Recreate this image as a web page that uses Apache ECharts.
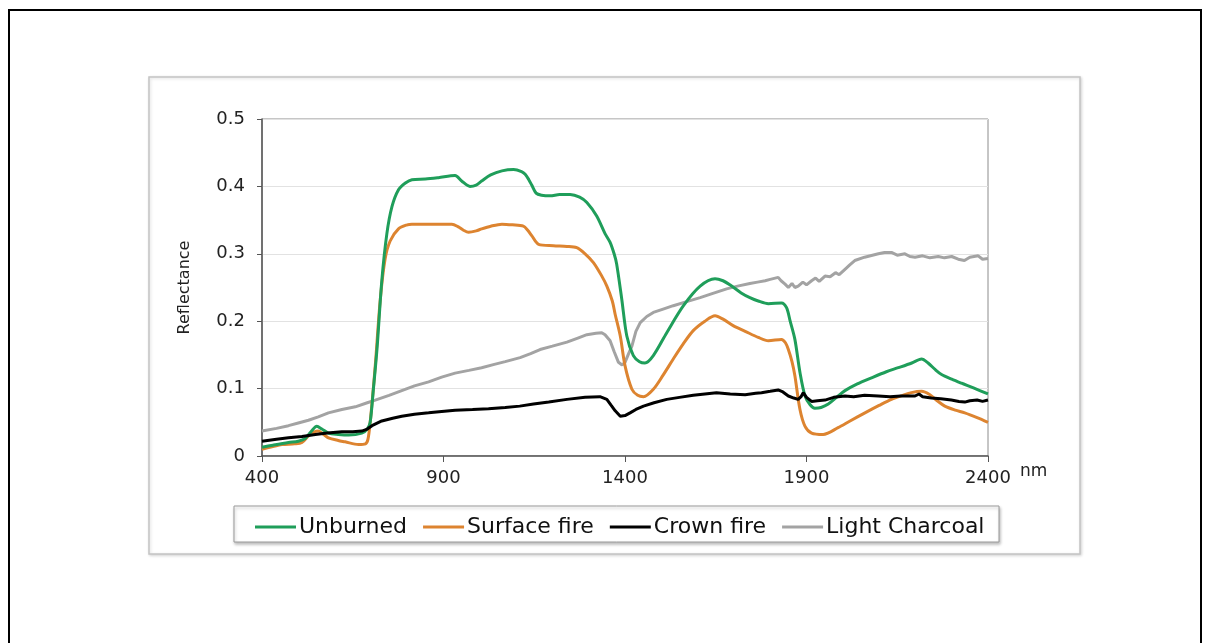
<!DOCTYPE html>
<html>
<head>
<meta charset="utf-8">
<script src="https://cdn.jsdelivr.net/npm/echarts@6/dist/echarts.min.js"></script>
<style>
html,body{margin:0;padding:0;background:#fff;}
#chart{width:1213px;height:643px;}
</style>
</head>
<body>
<div id="chart"></div>
<script>
const seriesNames = ['Unburned', 'Surface fire', 'Crown fire', 'Light Charcoal'];
const xTicks = [400, 900, 1400, 1900, 2400];
const yTicks = [0, 0.1, 0.2, 0.3, 0.4, 0.5];

const unburnedWl = [400,430,473,500,519,535,551,565,583,610,639,675,690,698,707,717,730,744,758,776,795,813,850,886,932,950,973,990,1005,1030,1061,1093,1115,1125,1135,1143,1155,1170,1194,1220,1249,1275,1295,1322,1345,1359,1370,1377,1391,1405,1423,1440,1455,1478,1515,1561,1607,1648,1670,1689,1720,1744,1767,1795,1831,1845,1855,1868,1882,1896,1910,1923,1940,1960,1985,2006,2040,2079,2120,2153,2190,2217,2235,2255,2272,2300,2327,2360,2400];
const unburnedVal = [0.013,0.016,0.020,0.022,0.026,0.036,0.044,0.040,0.034,0.032,0.031,0.034,0.040,0.050,0.100,0.160,0.260,0.330,0.370,0.395,0.405,0.410,0.411,0.413,0.416,0.408,0.400,0.402,0.408,0.417,0.423,0.425,0.422,0.418,0.410,0.402,0.390,0.387,0.386,0.388,0.388,0.384,0.376,0.356,0.330,0.317,0.300,0.285,0.233,0.178,0.149,0.140,0.138,0.149,0.183,0.223,0.252,0.263,0.260,0.254,0.242,0.235,0.230,0.226,0.227,0.220,0.200,0.173,0.124,0.089,0.076,0.071,0.072,0.077,0.088,0.097,0.107,0.116,0.125,0.131,0.138,0.144,0.138,0.128,0.121,0.114,0.108,0.101,0.092];

const surfaceWl = [400,430,455,490,510,528,545,555,570,583,610,629,666,685,692,698,705,712,726,739,753,776,800,813,870,923,941,955,969,990,1005,1030,1061,1090,1120,1132,1143,1162,1203,1240,1267,1290,1313,1335,1350,1365,1373,1387,1400,1419,1435,1451,1478,1505,1533,1560,1588,1620,1648,1670,1699,1731,1767,1795,1831,1842,1850,1860,1868,1882,1896,1914,1946,1987,2020,2061,2100,2134,2165,2189,2217,2240,2260,2281,2310,2336,2370,2400];
const surfaceVal = [0.010,0.014,0.017,0.018,0.020,0.030,0.036,0.037,0.032,0.027,0.023,0.021,0.017,0.018,0.025,0.050,0.090,0.134,0.233,0.292,0.319,0.337,0.343,0.344,0.344,0.344,0.340,0.335,0.332,0.334,0.337,0.341,0.344,0.343,0.341,0.335,0.327,0.314,0.312,0.311,0.309,0.300,0.287,0.268,0.252,0.230,0.210,0.178,0.134,0.099,0.090,0.088,0.099,0.120,0.144,0.166,0.186,0.200,0.208,0.203,0.193,0.185,0.176,0.171,0.173,0.168,0.158,0.140,0.119,0.069,0.044,0.034,0.032,0.042,0.052,0.064,0.075,0.084,0.090,0.094,0.096,0.091,0.082,0.074,0.068,0.064,0.057,0.050];

const crownWl = [400,440,473,510,547,580,620,650,675,690,703,730,760,785,820,859,895,932,980,1024,1070,1110,1148,1190,1240,1290,1331,1350,1362,1373,1387,1400,1414,1430,1451,1480,1515,1550,1588,1620,1652,1690,1731,1760,1776,1800,1822,1835,1850,1865,1877,1885,1891,1900,1914,1930,1951,1975,2006,2030,2060,2098,2130,2160,2199,2210,2220,2244,2270,2299,2320,2336,2350,2370,2385,2400];
const crownVal = [0.022,0.025,0.027,0.029,0.032,0.034,0.036,0.036,0.037,0.040,0.045,0.052,0.056,0.059,0.062,0.064,0.066,0.068,0.069,0.070,0.072,0.074,0.077,0.080,0.084,0.087,0.088,0.084,0.075,0.067,0.059,0.060,0.064,0.069,0.074,0.079,0.084,0.087,0.090,0.092,0.094,0.092,0.091,0.093,0.094,0.096,0.098,0.095,0.089,0.086,0.084,0.088,0.094,0.087,0.081,0.082,0.083,0.087,0.089,0.088,0.090,0.089,0.088,0.089,0.089,0.092,0.088,0.086,0.085,0.083,0.081,0.080,0.082,0.083,0.081,0.083];

const charcoalWl = [400,440,473,500,528,555,583,620,657,690,712,750,785,820,859,895,932,970,1005,1040,1070,1111,1140,1166,1200,1240,1270,1295,1320,1336,1345,1359,1370,1382,1392,1400,1410,1419,1430,1442,1460,1478,1505,1533,1570,1607,1640,1680,1710,1744,1765,1786,1800,1822,1830,1841,1850,1860,1868,1877,1890,1900,1914,1925,1935,1951,1965,1980,1990,2006,2020,2033,2060,2098,2115,2134,2150,2171,2185,2199,2220,2240,2263,2280,2300,2318,2335,2350,2373,2385,2400];
const charcoalVal = [0.037,0.041,0.045,0.049,0.053,0.058,0.064,0.069,0.073,0.079,0.083,0.090,0.097,0.104,0.110,0.117,0.123,0.127,0.131,0.136,0.140,0.146,0.152,0.158,0.163,0.169,0.175,0.180,0.182,0.183,0.180,0.171,0.155,0.139,0.135,0.139,0.152,0.163,0.185,0.198,0.207,0.213,0.218,0.223,0.229,0.235,0.241,0.248,0.252,0.256,0.258,0.260,0.262,0.265,0.260,0.255,0.250,0.256,0.250,0.252,0.258,0.254,0.260,0.264,0.259,0.267,0.266,0.272,0.269,0.277,0.284,0.290,0.295,0.300,0.302,0.302,0.298,0.300,0.296,0.295,0.297,0.294,0.296,0.294,0.296,0.292,0.290,0.295,0.297,0.292,0.293];

const colors = ['#1f9e5a', '#dd8430', '#000000', '#a3a3a3'];

function zip(xs, ys) { return xs.map((x, i) => [x, ys[i]]); }

const chart = echarts.init(document.getElementById('chart'), null, {renderer: 'canvas'});
const FONT = 'DejaVu Sans';

const mk = (name, xs, ys, color, smooth, z) => ({
  name: name, type: 'line', data: zip(xs, ys), symbol: 'none', smooth: smooth,
  lineStyle: {color: color, width: 3}, itemStyle: {color: color}, z: z, animation: false
});

chart.setOption({
  animation: false,
  backgroundColor: '#ffffff',
  graphic: [
    {type: 'rect', shape: {x: 9, y: 10, width: 1192, height: 660}, style: {fill: 'none', stroke: '#000', lineWidth: 2}, z: -10},
    {type: 'rect', shape: {x: 149, y: 77, width: 931, height: 477}, style: {fill: '#fff', stroke: '#c4c4c4', lineWidth: 1.5, shadowBlur: 3, shadowColor: 'rgba(0,0,0,0.15)', shadowOffsetX: 1, shadowOffsetY: 1}, z: -9},
    {type: 'rect', shape: {x: 234, y: 506, width: 765, height: 36}, style: {fill: '#fff', stroke: '#9a9a9a', lineWidth: 1, shadowBlur: 3, shadowColor: 'rgba(0,0,0,0.25)', shadowOffsetX: 1, shadowOffsetY: 2}, z: -8},
    {type: 'text', left: 1020, top: 463, style: {text: 'nm', fontFamily: FONT, fontSize: 17, fill: '#222'}}
  ],
  grid: {left: 262, right: 225, top: 119, bottom: 187, show: true, borderColor: '#8c8c8c', borderWidth: 1, backgroundColor: 'transparent'},
  legend: {
    data: seriesNames, left: 250, top: 511, orient: 'horizontal',
    icon: 'rect', itemWidth: 41, itemHeight: 3, itemGap: 16,
    textStyle: {fontFamily: FONT, fontSize: 22, color: '#111', padding: [0, 0, 0, -2]}
  },
  xAxis: {
    type: 'value', min: 400, max: 2400, interval: 500,
    axisLine: {show: true, lineStyle: {color: '#555', width: 1.5}},
    axisTick: {show: true, inside: false, length: 6, lineStyle: {color: '#555'}},
    axisLabel: {fontFamily: FONT, fontSize: 18, color: '#222', margin: 13, formatter: v => String(v)},
    splitLine: {show: false}
  },
  yAxis: {
    type: 'value', min: 0, max: 0.5, interval: 0.1,
    name: 'Reflectance', nameLocation: 'middle', nameGap: 69,
    nameTextStyle: {fontFamily: FONT, fontSize: 16, color: '#222'},
    axisLine: {show: true, lineStyle: {color: '#555', width: 1.5}},
    axisTick: {show: true, inside: false, length: 5, lineStyle: {color: '#555'}},
    axisLabel: {fontFamily: FONT, fontSize: 18, color: '#222', margin: 17,
      formatter: v => (v === 0 ? '0' : v.toFixed(1))},
    splitLine: {show: true, lineStyle: {color: '#e2e2e2', width: 1}}
  },
  series: [
    mk(seriesNames[0], unburnedWl, unburnedVal, colors[0], 0.3, 3),
    mk(seriesNames[1], surfaceWl, surfaceVal, colors[1], 0.3, 2),
    mk(seriesNames[2], crownWl, crownVal, colors[2], false, 4),
    mk(seriesNames[3], charcoalWl, charcoalVal, colors[3], false, 1)
  ]
});
</script>
</body>
</html>
